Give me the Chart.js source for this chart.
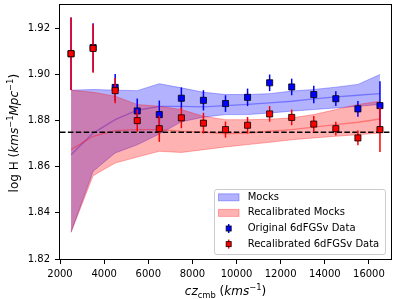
<!DOCTYPE html>
<html><head><meta charset="utf-8">
<script src="https://cdn.jsdelivr.net/npm/chart.js@4.4.0/dist/chart.umd.min.js"></script>
<style>html,body{margin:0;padding:0;background:#fff}#c{display:block}</style>
</head><body>
<canvas id="c" width="399" height="299"></canvas>
<script>
// ---------------- data ----------------
const cz = [2500,3500,4500,5500,6500,7500,8500,9500,10500,11500,12500,13500,14500,15500,16500];
const origH   = [1.9090,1.9117,1.8944,1.8842,1.8826,1.8897,1.8888,1.8874,1.8901,1.8964,1.8946,1.8913,1.8895,1.8851,1.8865];
const origErr = [0.0157,0.0105,0.0058,0.0054,0.0061,0.0047,0.0044,0.0036,0.0038,0.0036,0.0036,0.0038,0.0032,0.0034,0.0106];
const recalH   = [1.9090,1.9113,1.8930,1.8800,1.8765,1.8812,1.8789,1.8761,1.8780,1.8829,1.8814,1.8785,1.8765,1.8725,1.8761];
const recalErr = [0.0157,0.0105,0.0055,0.0048,0.0057,0.0045,0.0045,0.0035,0.0036,0.0034,0.0034,0.0035,0.0030,0.0032,0.0097];
const mockHigh = [1.8932,1.8935,1.8932,1.8930,1.8960,1.8942,1.8923,1.8913,1.8913,1.8917,1.8928,1.8935,1.8945,1.8957,1.9000];
const mockMean = [1.8652,1.8746,1.8804,1.8845,1.8862,1.8862,1.8860,1.8865,1.8870,1.8877,1.8884,1.8894,1.8903,1.8910,1.8917];
const mockLow  = [1.8316,1.8580,1.8660,1.8695,1.8742,1.8795,1.8815,1.8826,1.8826,1.8833,1.8841,1.8848,1.8855,1.8862,1.8870];
const recalMockHigh = [1.8932,1.8923,1.8906,1.8870,1.8862,1.8848,1.8819,1.8804,1.8804,1.8806,1.8812,1.8826,1.8848,1.8870,1.8884];
const recalMockMean = [1.8674,1.8732,1.8757,1.8761,1.8761,1.8754,1.8750,1.8743,1.8746,1.8754,1.8761,1.8772,1.8783,1.8793,1.8807];
const recalMockLow  = [1.8316,1.8561,1.8616,1.8642,1.8667,1.8662,1.8674,1.8686,1.8696,1.8706,1.8717,1.8725,1.8732,1.8739,1.8746];
const refH = 1.875;
const xRange = [2000, 17000];
const yRange = [1.82, 1.93];
const xTicks = [2000,4000,6000,8000,10000,12000,14000,16000];
const yTicks = [1.82,1.84,1.86,1.88,1.90,1.92];
const legendLabels = ['Mocks','Recalibrated Mocks','Original 6dFGSv Data','Recalibrated 6dFGSv Data'];

// ---------------- helpers ----------------
const FONT = '"DejaVu Sans", "Liberation Sans", sans-serif';
const pts = (ys) => cz.map((x,i)=>({x:x, y:ys[i]}));
const BLUE = '#0000ff', RED = '#ff0000';
const BLUE_FILL = 'rgba(0,0,255,0.3)', RED_FILL = 'rgba(255,0,0,0.3)';

function lineDs(data, color, extra){
  return Object.assign({type:'line', data:data, borderColor:color, borderWidth:1, pointRadius:0, fill:false, tension:0}, extra||{});
}

const datasets = [
  lineDs(pts(mockLow), 'rgba(0,0,255,0.3)'),                                   // 0
  lineDs(pts(mockHigh), 'rgba(0,0,255,0.3)', {fill:{target:0}, backgroundColor:BLUE_FILL, label:legendLabels[0]}), // 1
  lineDs(pts(mockMean), 'rgba(0,0,255,0.35)', {borderWidth:1.3}),             // 2
  lineDs(pts(recalMockLow), 'rgba(255,0,0,0.3)'),                              // 3
  lineDs(pts(recalMockHigh), 'rgba(255,0,0,0.3)', {fill:{target:3}, backgroundColor:RED_FILL, label:legendLabels[1]}), // 4
  lineDs(pts(recalMockMean), 'rgba(255,0,0,0.35)', {borderWidth:1.3}),        // 5
  lineDs([{x:xRange[0],y:refH},{x:xRange[1],y:refH}], '#000', {borderWidth:1.5, borderDash:[5.5,2.4]}), // 6
  {type:'scatter', label:legendLabels[2], data:pts(origH), errors:origErr, errorColor:BLUE,
   pointStyle:'rect', pointRadius:4.3, pointHoverRadius:4.3, backgroundColor:BLUE, borderColor:'rgba(0,0,0,0.8)', borderWidth:1}, // 7
  {type:'scatter', label:legendLabels[3], data:pts(recalH), errors:recalErr, errorColor:RED,
   pointStyle:'rect', pointRadius:4.3, pointHoverRadius:4.3, backgroundColor:RED, borderColor:'rgba(0,0,0,0.8)', borderWidth:1}  // 8
];
// drawn bottom -> top in list order
datasets.forEach((d,i)=>{ d.order = datasets.length - i; });

// ---------------- plugins ----------------
const errorBars = {
  id:'errorBars',
  beforeDatasetDraw(chart, args){
    const ds = chart.data.datasets[args.index];
    if(!ds.errors) return;
    const ctx = chart.ctx, xs = chart.scales.x, ys = chart.scales.y;
    ctx.save();
    ctx.strokeStyle = ds.errorColor; ctx.lineWidth = 1.5;
    ds.data.forEach((p,i)=>{
      const e = ds.errors[i];
      const px = xs.getPixelForValue(p.x);
      ctx.beginPath();
      ctx.moveTo(px, ys.getPixelForValue(p.y - e));
      ctx.lineTo(px, ys.getPixelForValue(p.y + e));
      ctx.stroke();
    });
    ctx.restore();
  }
};

function fontOf(p, size){
  return (p.it ? 'italic ' : '') + (size*(p.sc||1)).toFixed(2) + 'px ' + FONT;
}
function drawRich(ctx, parts, cx, baseline, size){
  let w = 0;
  parts.forEach(p=>{ ctx.font = fontOf(p,size); p.w = ctx.measureText(p.t).width; w += p.w; });
  let x = cx - w/2;
  ctx.textAlign = 'left'; ctx.textBaseline = 'alphabetic';
  parts.forEach(p=>{
    ctx.font = fontOf(p,size);
    ctx.fillText(p.t, x, baseline + (p.dy||0)*size);
    x += p.w;
  });
}
const yTitleParts = [{t:'log H ('},{t:'kms',it:1},{t:'\u22121',sc:0.7,dy:-0.42},{t:'Mpc',it:1},{t:'\u22121',sc:0.7,dy:-0.42},{t:')'}];
const xTitleParts = [{t:'cz',it:1},{t:'cmb',sc:0.7,dy:0.22},{t:' ('},{t:'kms',it:1},{t:'\u22121',sc:0.7,dy:-0.42},{t:')'}];

const decor = {
  id:'decor',
  afterDraw(chart){
    const ctx = chart.ctx, a = chart.chartArea;
    ctx.save();
    // spines
    ctx.strokeStyle = '#000'; ctx.lineWidth = 1;
    ctx.strokeRect(Math.round(a.left)-0.5, Math.round(a.top)-0.5, Math.round(a.right-a.left)+1, Math.round(a.bottom-a.top)+1);
    // axis titles
    ctx.fillStyle = '#000';
    drawRich(ctx, xTitleParts, (a.left+a.right)/2, 295, 12);
    ctx.save();
    ctx.translate(18.3, (a.top+a.bottom)/2 + 1);
    ctx.rotate(-Math.PI/2);
    drawRich(ctx, yTitleParts, 0, 0, 12);
    ctx.restore();
    // legend
    const bx = 214.5, by = 189.5, bw = 171, bh = 65, r = 2.5;
    ctx.beginPath();
    ctx.moveTo(bx+r, by); ctx.lineTo(bx+bw-r, by); ctx.arcTo(bx+bw, by, bx+bw, by+r, r);
    ctx.lineTo(bx+bw, by+bh-r); ctx.arcTo(bx+bw, by+bh, bx+bw-r, by+bh, r);
    ctx.lineTo(bx+r, by+bh); ctx.arcTo(bx, by+bh, bx, by+bh-r, r);
    ctx.lineTo(bx, by+r); ctx.arcTo(bx, by, bx+r, by, r); ctx.closePath();
    ctx.fillStyle = 'rgba(255,255,255,0.8)'; ctx.fill();
    ctx.strokeStyle = '#cccccc'; ctx.lineWidth = 1; ctx.stroke();
    const rows = [
      {kind:'patch', fill:BLUE_FILL, edge:'rgba(0,0,255,0.3)', label:legendLabels[0]},
      {kind:'patch', fill:RED_FILL, edge:'rgba(255,0,0,0.3)', label:legendLabels[1]},
      {kind:'err', color:BLUE, label:legendLabels[2]},
      {kind:'err', color:RED, label:legendLabels[3]}
    ];
    rows.forEach((row,i)=>{
      const cy = 197.3 + i*15.6;
      if(row.kind==='patch'){
        ctx.fillStyle = row.fill; ctx.fillRect(218.5, cy-3.5, 20.5, 7);
        ctx.strokeStyle = row.edge; ctx.strokeRect(218.5, cy-3.5, 20.5, 7);
      } else {
        ctx.strokeStyle = row.color; ctx.lineWidth = 1.5;
        ctx.beginPath(); ctx.moveTo(228.7, cy-4.5); ctx.lineTo(228.7, cy+4.5); ctx.stroke();
        ctx.fillStyle = row.color; ctx.fillRect(226.2, cy-2.5, 5, 5);
        ctx.strokeStyle = 'rgba(0,0,0,0.8)'; ctx.lineWidth = 1; ctx.strokeRect(226.2, cy-2.5, 5, 5);
      }
      ctx.fillStyle = '#000'; ctx.font = '10px ' + FONT;
      ctx.textAlign = 'left'; ctx.textBaseline = 'middle';
      ctx.fillText(row.label, 247.7, cy);
    });
    ctx.restore();
  }
};

// ---------------- chart ----------------
new Chart(document.getElementById('c'), {
  type:'line',
  data:{datasets:datasets},
  plugins:[errorBars, decor],
  options:{
    responsive:false, animation:false, devicePixelRatio:1,
    layout:{padding:{left:0, right:8, top:5, bottom:0}},
    plugins:{legend:{display:false}, tooltip:{enabled:false}, filler:{propagate:false}},
    scales:{
      x:{type:'linear', min:xRange[0], max:xRange[1],
         afterBuildTicks(s){ s.ticks = xTicks.map(v=>({value:v})); },
         afterFit(s){ s.height = 40; s.paddingLeft = 0; s.paddingRight = 0; },
         ticks:{color:'#000', font:{family:FONT, size:10}, padding:4, maxRotation:0, autoSkip:false,
                callback:(v)=>String(v)},
         grid:{drawOnChartArea:false, drawTicks:true, tickLength:5, tickColor:'#000', tickWidth:1},
         border:{display:false}},
      y:{type:'linear', min:yRange[0], max:yRange[1],
         afterBuildTicks(s){ s.ticks = yTicks.map(v=>({value:v})); },
         afterFit(s){ s.width = 60; s.paddingTop = 0; s.paddingBottom = 0; },
         ticks:{color:'#000', font:{family:FONT, size:10}, padding:5, autoSkip:false,
                callback:(v)=>Number(v).toFixed(2)},
         grid:{drawOnChartArea:false, drawTicks:true, tickLength:5, tickColor:'#000', tickWidth:1},
         border:{display:false}}
    }
  }
});
</script>
</body></html>
